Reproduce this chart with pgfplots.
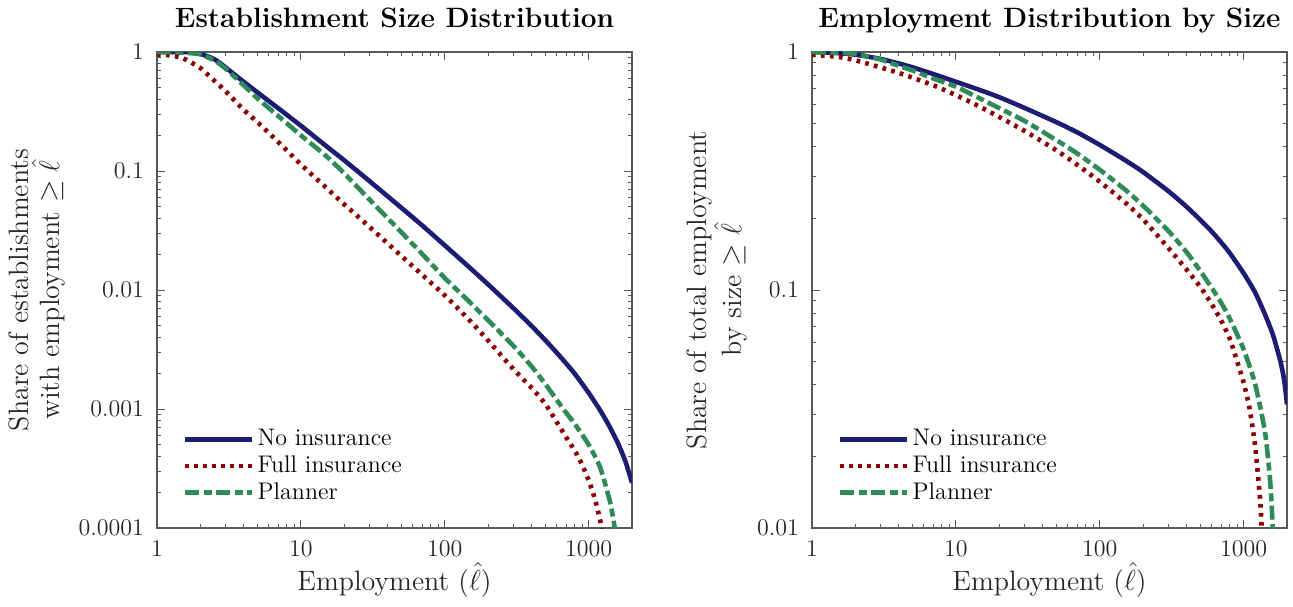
\documentclass[border=0pt]{standalone}
\usepackage{pgfplots}
\pgfplotsset{compat=1.18}
\definecolor{cblue}{RGB}{28,28,115}
\definecolor{cred}{RGB}{140,0,0}
\definecolor{cgreen}{RGB}{46,139,87}
\pgfplotsset{
  every axis/.append style={
    xmode=log, ymode=log, scale only axis,
    width=237.5pt, height=238pt,
    xmin=1, xmax=2000,
    xtick={1,10,100,1000}, xticklabels={1,10,100,1000},
    tick align=inside, major tick length=4pt, minor tick length=2.2pt,
    axis line style={black!65, line width=0.6pt},
    every tick/.style={black!65, line width=0.5pt},
    tick label style={font=\fontsize{12}{14}\selectfont, text=black!85},
    xticklabel style={yshift=-2.5pt},
    yticklabel style={xshift=-3pt},
    xlabel={Employment ($\hat{\ell}$)},
    xlabel style={font=\fontsize{14}{15.5}\selectfont, text=black!85, at={(axis description cs:0.5,0)}, anchor=base, yshift=-31pt},
    ylabel style={font=\fontsize{14}{15.5}\selectfont, text=black!85, align=center, at={(axis description cs:0,0.5)}, anchor=center},
    title style={font=\fontsize{14}{16}\selectfont\bfseries, at={(axis description cs:0.5,1)}, anchor=base, yshift=6.2pt},
    legend style={draw=none, fill=none, at={(axis description cs:0.0415,0.0385)}, anchor=south west,
      font=\fontsize{12}{14}\selectfont, row sep=0.5pt,
      nodes={inner sep=1.5pt}},
    legend cell align=left,
  },
}
\pgfplotsset{legend image code/.code={\draw[#1] (0pt,0pt) -- (33.5pt,0pt);}}
\tikzset{
  blueline/.style={cblue, line width=2.3pt, smooth, tension=0.4},
  redline/.style={cred, line width=2.3pt, dash pattern=on 1.85pt off 2.65pt, smooth, tension=0.4},
  greenline/.style={cgreen, line width=2.3pt, dash pattern=on 7pt off 2.2pt on 4pt off 2.2pt, smooth, tension=0.4},
}
\begin{document}
\begin{tikzpicture}
\useasboundingbox (0,0) rectangle (646.5pt,303pt);
% ---------------- Left panel ----------------
\begin{axis}[at={(78.5pt,39pt)}, anchor=south west,
  ymin=0.0001, ymax=1,
  ytick={0.0001,0.001,0.01,0.1,1}, yticklabels={0.0001,0.001,0.01,0.1,1},
  title={Establishment Size Distribution},
  ylabel={Share of establishments\\with employment $\geq \hat{\ell}$},
  ylabel style={yshift=60pt},
]
\addplot[blueline] coordinates {
(1,1) (1.5,1) (1.8,0.991) (2,0.966) (2.5,0.871) (3,0.741) (4,0.562) (5,0.457) (7,0.335) (10,0.240) (15,0.162) (20,0.123) (30,0.0822) (50,0.049) (70,0.0347) (100,0.0237) (150,0.0153) (200,0.01114) (300,0.00703) (400,0.0050) (500,0.00378) (600,0.00297) (700,0.0024) (800,0.00198) (1000,0.001365) (1200,0.000977) (1400,0.000708) (1600,0.000513) (1800,0.000363) (2000,0.00024)
};
\addlegendentry{No insurance}
\addplot[redline] coordinates {
(1,0.95) (1.2,0.94) (1.5,0.891) (2,0.733) (2.5,0.575) (3,0.468) (4,0.327) (5,0.257) (7,0.174) (10,0.1135) (15,0.0724) (20,0.0525) (30,0.0339) (50,0.0193) (70,0.01334) (100,0.00902) (150,0.0055) (200,0.00376) (300,0.00216) (400,0.00151) (500,0.0011) (600,0.000776) (700,0.000575) (800,0.000447) (900,0.000339) (1000,0.000251) (1100,0.000178) (1200,0.000117) (1250,0.0000891)
};
\addlegendentry{Full insurance}
\addplot[greenline] coordinates {
(1,1) (1.5,0.989) (1.8,0.973) (2,0.955) (2.5,0.851) (3,0.724) (4,0.525) (5,0.407) (7,0.288) (10,0.1995) (15,0.1334) (20,0.0955) (30,0.0575) (50,0.0305) (70,0.01995) (100,0.0126) (150,0.00785) (200,0.00556) (300,0.00339) (400,0.00229) (500,0.00162) (600,0.00119) (700,0.000923) (800,0.00075) (1000,0.000501) (1200,0.000324) (1400,0.00017) (1514,0.000102) (1550,0.0000794)
};
\addlegendentry{Planner}
\end{axis}
% ---------------- Right panel ----------------
\begin{axis}[at={(406pt,39pt)}, anchor=south west,
  ymin=0.01, ymax=1,
  ytick={0.01,0.1,1}, yticklabels={0.01,0.1,1},
  title={Employment Distribution by Size},
  ylabel={Share of total employment\\by size $\geq \hat{\ell}$},
  ylabel style={yshift=47.5pt},
]
\addplot[blueline] coordinates {
(1,1) (1.5,0.99) (2,0.975) (3,0.935) (4,0.895) (5,0.862) (7,0.807) (10,0.750) (15,0.689) (20,0.646) (30,0.582) (50,0.507) (70,0.459) (100,0.407) (150,0.351) (200,0.313) (300,0.260) (400,0.224) (500,0.197) (600,0.176) (700,0.158) (800,0.143) (1000,0.1175) (1200,0.0977) (1400,0.0794) (1600,0.0646) (1800,0.0501) (1900,0.0427) (1950,0.038) (2000,0.0331)
};
\addlegendentry{No insurance}
\addplot[redline] coordinates {
(1,0.973) (1.5,0.955) (2,0.923) (3,0.861) (4,0.817) (5,0.78) (7,0.724) (10,0.659) (15,0.585) (20,0.533) (30,0.466) (50,0.386) (70,0.335) (100,0.285) (150,0.233) (200,0.198) (300,0.150) (400,0.122) (500,0.103) (600,0.0871) (700,0.0741) (800,0.0624) (900,0.0501) (1000,0.0407) (1100,0.0316) (1200,0.0221) (1300,0.0132) (1340,0.00933)
};
\addlegendentry{Full insurance}
\addplot[greenline] coordinates {
(1,1) (1.5,0.991) (2,0.982) (3,0.929) (4,0.875) (5,0.836) (7,0.773) (10,0.715) (15,0.634) (20,0.581) (30,0.513) (50,0.426) (70,0.374) (100,0.32) (150,0.264) (200,0.226) (300,0.177) (400,0.1445) (500,0.120) (600,0.102) (700,0.0881) (800,0.0759) (1000,0.0562) (1200,0.0403) (1400,0.0257) (1500,0.0178) (1550,0.0138) (1600,0.00933)
};
\addlegendentry{Planner}
\end{axis}
\end{tikzpicture}
\end{document}
